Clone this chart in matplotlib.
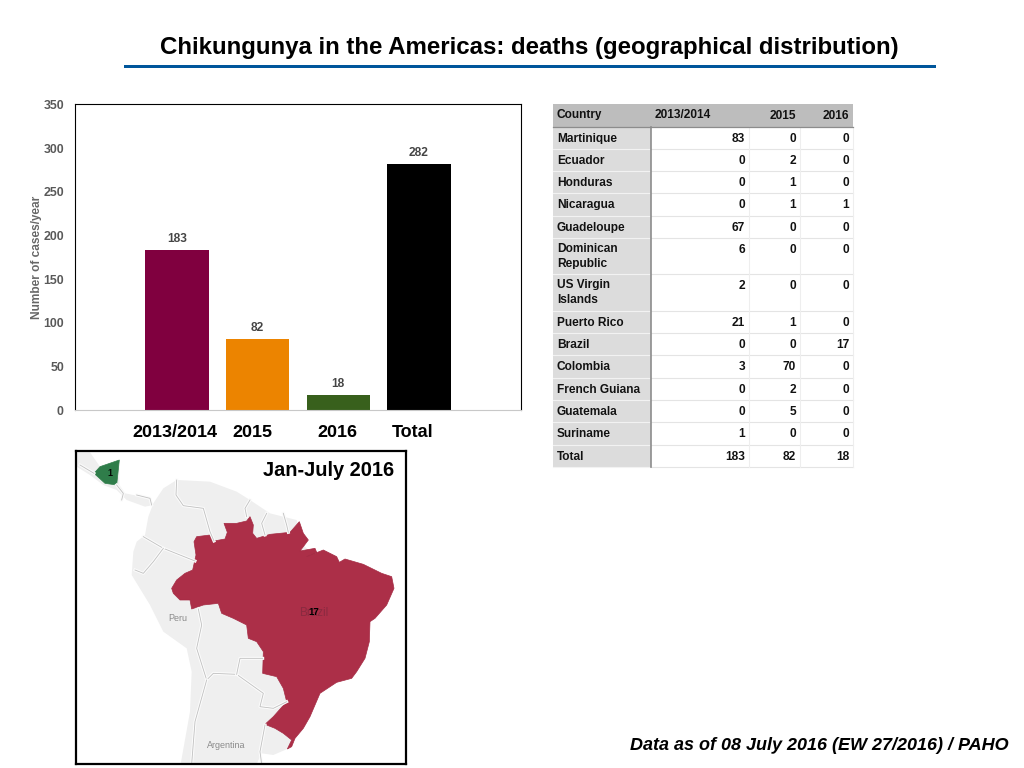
import matplotlib
matplotlib.use("Agg")
import matplotlib.pyplot as plt
from matplotlib.patches import Polygon, Rectangle

plt.rcParams['font.family'] = ['Liberation Sans', 'DejaVu Sans']
plt.rcParams['text.hinting'] = 'no_autohint'

# bar chart
years = ["2013/2014", "2015", "2016", "Total"]
deaths = [183, 82, 18, 282]
bar_colors = ["#80003f", "#ec8400", "#38601c", "#000000"]

# table
col_names = ["Country", "2013/2014", "2015", "2016"]
countries = ["Martinique", "Ecuador", "Honduras", "Nicaragua", "Guadeloupe",
             "Dominican\nRepublic", "US Virgin\nIslands", "Puerto Rico", "Brazil",
             "Colombia", "French Guiana", "Guatemala", "Suriname", "Total"]
v_1314 = [83, 0, 0, 0, 67, 6, 2, 21, 0, 3, 0, 0, 1, 183]
v_2015 = [0, 2, 1, 1, 0, 0, 0, 1, 0, 70, 2, 5, 0, 82]
v_2016 = [0, 0, 0, 1, 0, 0, 0, 0, 17, 0, 0, 0, 0, 18]
row_edges = [127, 149, 171, 193, 216, 238, 274, 311, 333, 355, 378, 400, 422, 445, 467]
col_edges = [553, 651, 749, 800, 853]

# map outlines (crop pixels)
land = [(225, 270), (235, 215), (250, 175), (280, 130), (320, 105), (420, 110), (500, 140),
        (540, 165), (600, 205), (680, 225), (700, 300), (800, 400), (960, 410), (800, 560),
        (700, 780), (680, 860), (652, 912), (610, 930), (575, 925), (560, 957),
        (332, 957), (360, 800), (365, 680), (350, 610), (280, 560), (240, 480), (185, 390),
        (190, 320), (200, 290)]
central = [(20, 22), (60, 22), (90, 65), (148, 60), (148, 120), (165, 145), (240, 160), (250, 180),
           (225, 185), (170, 165), (140, 135), (100, 120), (60, 90), (20, 65)]
brazil = [(305, 430), (320, 405), (345, 385), (368, 375), (378, 330), (372, 290), (380, 275),
          (420, 270), (432, 288), (465, 282), (472, 262), (462, 235), (500, 235), (530, 228),
          (540, 215), (550, 240), (548, 265), (560, 280), (600, 268), (660, 262), (688, 230),
          (700, 265), (715, 285), (700, 305), (690, 318), (735, 310), (740, 322), (710, 335),
          (760, 315), (800, 335), (808, 352), (825, 342), (880, 358), (935, 385), (965, 395),
          (972, 430), (950, 480), (915, 520), (900, 530), (898, 590), (885, 640), (860, 680),
          (845, 700), (800, 712), (750, 745), (735, 780), (720, 815), (700, 850), (675, 880),
          (665, 905), (652, 912), (665, 885), (640, 865), (615, 850), (585, 838), (610, 815),
          (650, 770), (640, 730), (620, 695), (578, 685), (580, 620), (560, 590), (535, 580),
          (530, 540), (490, 520), (455, 505), (445, 475), (400, 480), (365, 492), (360, 465),
          (330, 465), (310, 445)]
nicaragua = [(72, 85), (90, 65), (148, 45), (140, 120), (105, 115)]
borders = [
    [(320, 105), (318, 150), (340, 182), (400, 190), (420, 260), (432, 288)],
    [(540, 165), (525, 190), (530, 215)],
    [(590, 205), (575, 235), (585, 270)],
    [(640, 205), (650, 240), (655, 262)],
    [(220, 275), (280, 310), (375, 348)],
    [(280, 310), (250, 350), (220, 385), (195, 375)],
    [(385, 492), (395, 540), (380, 610), (410, 705), (430, 685), (500, 688), (580, 745),
     (570, 785), (610, 790), (650, 770)],
    [(410, 705), (375, 830), (365, 957)],
    [(500, 688), (510, 640), (578, 640)],
    [(585, 840), (570, 920), (575, 957)],
    [(30, 60), (72, 85)],
    [(140, 120), (160, 145), (155, 165)],
    [(200, 150), (240, 160), (245, 180)],
]


def px_axes(fig, x0, y0, x1, y1):
    # axes placed with picture pixels, y going down
    w, h = fig.get_size_inches() * fig.dpi
    return fig.add_axes([x0 / w, 1 - y1 / h, (x1 - x0) / w, (y1 - y0) / h])


def draw_bars(fig):
    ax = px_axes(fig, 75, 104.4, 521, 410.4)
    ax.bar(range(len(deaths)), deaths, width=0.785, color=bar_colors)
    for i, v in enumerate(deaths):
        ax.annotate(str(v), (i, v), xytext=(0, 6), textcoords="offset pixels", ha="center",
                    va="bottom", fontsize=8.6, fontweight="bold", color="#444444")
    ax.set_xlim(-1.265, 4.265)
    ax.set_ylim(0, 350)
    ax.set_xticks([])
    ax.set_yticks(range(0, 351, 50))
    ax.tick_params(axis="y", length=0, pad=8, labelsize=8.8, labelcolor="#595959")
    for t in ax.get_yticklabels():
        t.set_fontweight("bold")
    ax.set_ylabel("Number of cases/year", fontsize=8.6, fontweight="bold", color="#666666", labelpad=1)
    ax.spines["bottom"].set_color("#c8c8c8")
    for s in ["top", "left", "right"]:
        ax.spines[s].set_linewidth(0.8)


def draw_table(ax):
    ax.add_patch(Rectangle((553, 104), 300, 23, color="#bdbdbd", lw=0))
    ax.add_patch(Rectangle((553, 127), 98, 340, color="#dcdcdc", lw=0))
    for y in row_edges[1:]:
        ax.plot([553, 651], [y, y], color="#f2f2f2", lw=0.8)
        ax.plot([651, 853], [y, y], color="#e4e4e4", lw=0.8)
    for x in col_edges[2:]:
        ax.plot([x, x], [127, 467], color="#eeeeee", lw=0.8)
    ax.plot([651, 651], [127, 467], color="#8c8c8c", lw=1.2)
    ax.plot([553, 853], [127, 127], color="#8c8c8c", lw=0.9)

    kw = dict(fontsize=8.6, fontweight="bold", color="#111111")
    ax.text(557, 115, col_names[0], va="center", **kw)
    ax.text(655, 114.5, col_names[1], va="center", **kw)
    ax.text(796, 115.5, col_names[2], va="center", ha="right", **kw)
    ax.text(849, 115.5, col_names[3], va="center", ha="right", **kw)
    for i, name in enumerate(countries):
        y = row_edges[i] + 11.5
        if "\n" in name:
            ax.text(557, y - 6, name, va="top", linespacing=1.4, **kw)
        else:
            ax.text(557, y, name, va="center", **kw)
        ax.text(745, y, str(v_1314[i]), va="center", ha="right", **kw)
        ax.text(796, y, str(v_2015[i]), va="center", ha="right", **kw)
        ax.text(849, y, str(v_2016[i]), va="center", ha="right", **kw)


def draw_map(fig):
    ax = px_axes(fig, 76, 451, 406, 764)
    ax.set_xlim(18, 1008)
    ax.set_ylim(957, 18)
    ax.set_xticks([])
    ax.set_yticks([])
    ax.add_patch(Polygon(land, color="#efefef", lw=0))
    ax.add_patch(Polygon(central, color="#efefef", lw=0))
    for b in borders:
        ax.plot(*zip(*b), color="#fbfbfb", lw=2.2, solid_joinstyle="round")
        ax.plot(*zip(*b), color="#c0c0c0", lw=0.6, solid_joinstyle="round")
    ax.add_patch(Polygon(brazil, facecolor="#ac2f48", edgecolor="#a52c45", lw=0.5))
    ax.add_patch(Polygon(nicaragua, facecolor="#2f7d4a", edgecolor="#2f7d4a", lw=0.5))
    ax.text(730, 504, "Brazil", ha="center", va="center", fontsize=8.5, color="#8a2a40")
    ax.text(730, 502, "17", ha="center", va="center", fontsize=7, fontweight="bold", color="black")
    ax.text(119, 85, "1", ha="center", va="center", fontsize=6.5, fontweight="bold", color="black")
    ax.text(322, 520, "Peru", ha="center", va="center", fontsize=6.5, color="#888888")
    ax.text(470, 901, "Argentina", ha="center", va="center", fontsize=6.5, color="#888888")
    ax.text(776, 78, "Jan-July 2016", ha="center", va="center", fontsize=14.4, fontweight="bold")
    for s in ax.spines.values():
        s.set_linewidth(1.6)


def main():
    fig = plt.figure(figsize=(10.24, 7.68), dpi=100)
    draw_bars(fig)
    draw_map(fig)

    # page layer: title, rule, table, loose labels
    page = fig.add_axes([0, 0, 1, 1], zorder=-1)
    page.set_xlim(0, 1024)
    page.set_ylim(768, 0)
    page.axis("off")
    page.text(529.5, 48, "Chikungunya in the Americas: deaths (geographical distribution)",
              ha="center", va="center", fontsize=17.27, fontweight="bold")
    page.add_patch(Rectangle((124, 64.5), 812, 3.5, color="#00569b", lw=0))
    for x, name in zip([174.5, 252, 337, 413], years):
        page.text(x, 432.5, name, ha="center", va="center", fontsize=13, fontweight="bold")
    draw_table(page)
    page.text(1009, 745, "Data as of 08 July 2016 (EW 27/2016) / PAHO", ha="right", va="center",
              fontsize=13, fontweight="bold", fontstyle="italic")
    fig.savefig("out.png", dpi=100)


main()
